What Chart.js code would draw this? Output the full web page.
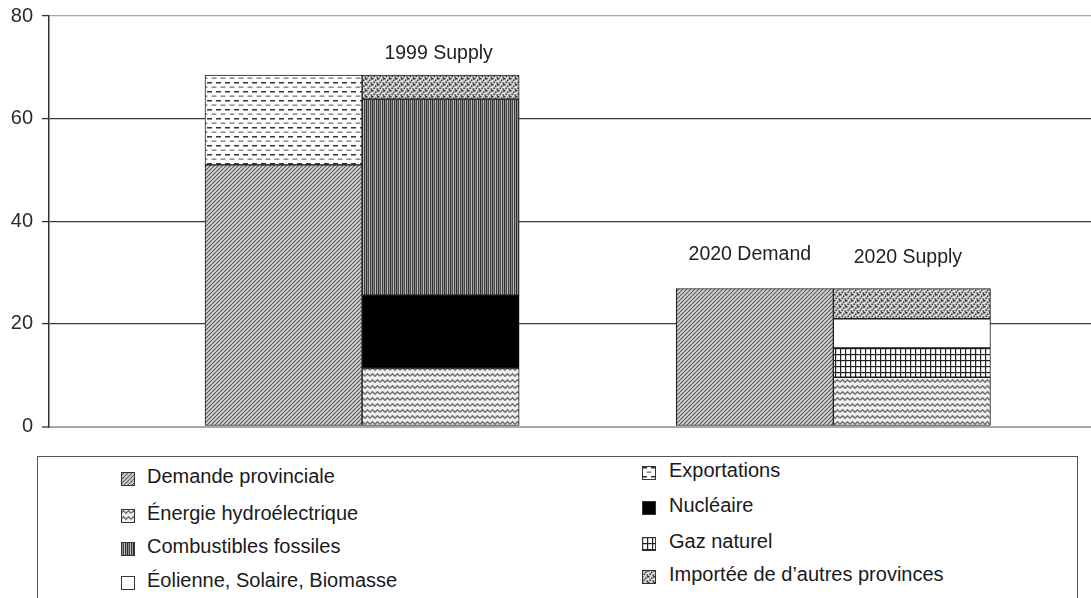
<!DOCTYPE html>
<html><head><meta charset="utf-8">
<script src="https://cdn.jsdelivr.net/npm/chart.js@4.4.0/dist/chart.umd.min.js"></script>
<style>
html,body{margin:0;padding:0;background:#fff;overflow:hidden;width:1091px;height:598px;position:relative;}
#c{position:absolute;left:0;top:0;}
#legend{position:absolute;left:37px;top:456px;width:1041px;height:170px;border:1.5px solid #555;box-sizing:border-box;}
.sw{position:absolute;}
.tx{position:absolute;font-family:"Liberation Sans",Arial,sans-serif;font-size:20px;line-height:24px;color:#1a1a1a;white-space:nowrap;}
</style></head><body>
<canvas id="c" width="1091" height="440"></canvas>
<div id="legend"></div>
<script>
// ---- data ----
const categories = ['1999 Demand', '1999 Supply', '2020 Demand', '2020 Supply'];
const barLabels = ['', '1999 Supply', '2020 Demand', '2020 Supply'];
const demandeProvinciale = [51.0, null, 26.9, null];
const exportations = [17.5, null, null, null];
const energieHydro = [null, 11.4, null, 9.6];
const nucleaire = [null, 14.2, null, null];
const combustiblesFossiles = [null, 38.2, null, null];
const gazNaturel = [null, null, null, 5.7];
const eolienneSolaireBiomasse = [null, null, null, 5.7];
const importee = [null, 4.7, null, 5.9];
const yTicks = [0, 20, 40, 60, 80];

// category index -> slot on the x axis (a gap between the two years)
function slotOf(i) { return i + 1 + (i >= 2 ? 1 : 0); }

// ---- patterns ----
function tile(w, h, draw) {
  const c = document.createElement('canvas'); c.width = w; c.height = h;
  const g = c.getContext('2d'); draw(g, w, h); return g.createPattern(c, 'repeat');
}
const pDiag = tile(4, 4, (g, w, h) => {
  g.fillStyle = '#d2d2d2'; g.fillRect(0, 0, w, h);
  g.strokeStyle = '#5a5a5a'; g.lineWidth = 1.1;
  for (const x0 of [-4, 0, 4]) { g.beginPath(); g.moveTo(x0, h); g.lineTo(x0 + h, 0); g.stroke(); }
});
const pDash = tile(9, 9, (g, w, h) => {
  g.fillStyle = '#fff'; g.fillRect(0, 0, w, h);
  g.fillStyle = '#333'; g.fillRect(0, 1, 5, 1.5);
  g.fillStyle = '#777'; g.fillRect(4.5, 5.5, 5, 1.3); g.fillRect(-4.5, 5.5, 5, 1.3);
});
const pWave = tile(10, 6, (g, w, h) => {
  g.fillStyle = '#f0f0f0'; g.fillRect(0, 0, w, h);
  g.strokeStyle = '#707070'; g.lineWidth = 1.5;
  g.beginPath(); g.moveTo(0, 4.2); g.lineTo(2.5, 1.8); g.lineTo(5, 4.2); g.lineTo(7.5, 1.8); g.lineTo(10, 4.2); g.stroke();
});
const pSolid = '#000';
const pVert = tile(6, 1, (g) => {
  ['#2e2e2e', '#8c8c8c', '#454545', '#bdbdbd', '#383838', '#9a9a9a'].forEach((c, i) => { g.fillStyle = c; g.fillRect(i, 0, 1, 1); });
});
const pGrid = tile(5, 6, (g, w, h) => {
  g.fillStyle = '#fff'; g.fillRect(0, 0, w, h);
  g.fillStyle = '#222'; g.fillRect(0, 0, 1.2, h); g.fillRect(0, 0, w, 1.2);
});
const pWhite = '#ffffff';
const pDots = tile(6, 6, (g, w, h) => {
  g.fillStyle = '#c4c4c4'; g.fillRect(0, 0, w, h);
  g.fillStyle = '#2a2a2a';
  [[0, 0], [3, 1.5], [1.5, 3.5], [4.5, 4.5], [5, 0.2]].forEach(([x, y]) => g.fillRect(x, y, 1.4, 1.4));
  g.fillStyle = '#f4f4f4';
  [[2, 0.5], [4.8, 2.8], [0, 2.5], [3, 5]].forEach(([x, y]) => g.fillRect(x, y, 1.2, 1.2));
});

const series = [
  { label: 'Demande provinciale', values: demandeProvinciale, fill: pDiag },
  { label: 'Exportations', values: exportations, fill: pDash },
  { label: 'Énergie hydroélectrique', values: energieHydro, fill: pWave },
  { label: 'Nucléaire', values: nucleaire, fill: pSolid },
  { label: 'Combustibles fossiles', values: combustiblesFossiles, fill: pVert },
  { label: 'Gaz naturel', values: gazNaturel, fill: pGrid },
  { label: 'Éolienne, Solaire, Biomasse', values: eolienneSolaireBiomasse, fill: pWhite },
  { label: 'Importée de d’autres provinces', values: importee, fill: pDots }
];

const FONT = '"Liberation Sans", Arial, sans-serif';

const barLabelPlugin = {
  id: 'barLabels',
  afterDatasetsDraw(chart, args, opts) {
    const ctx = chart.ctx, xs = chart.scales.x, ys = chart.scales.y;
    ctx.save();
    ctx.font = '19.5px ' + FONT; ctx.fillStyle = '#222';
    ctx.textAlign = 'center'; ctx.textBaseline = 'alphabetic';
    categories.forEach((c, i) => {
      if (!barLabels[i]) return;
      const total = series.reduce((s, d) => s + (d.values[i] || 0), 0);
      const x = xs.getPixelForValue(slotOf(i)) + opts.dx[i];
      const y = ys.getPixelForValue(total) - opts.lift[i];
      ctx.fillText(barLabels[i], x, y);
    });
    ctx.restore();
  }
};

new Chart(document.getElementById('c'), {
  type: 'bar',
  data: {
    datasets: series.map(s => ({
      label: s.label,
      data: s.values.map((v, i) => ({ x: slotOf(i), y: v })),
      backgroundColor: s.fill,
      borderColor: '#1a1a1a',
      borderWidth: 1,
      borderSkipped: false,
      categoryPercentage: 1,
      barPercentage: 1
    }))
  },
  options: {
    responsive: false,
    animation: false,
    devicePixelRatio: 1,
    layout: { padding: { top: 16, bottom: 13.5, left: 0, right: 0 } },
    plugins: {
      legend: { display: false },
      tooltip: { enabled: false },
      barLabels: { dx: [0, -2, -5, -4], lift: [0, 16, 28, 25] }
    },
    scales: {
      x: {
        type: 'linear', min: -0.493, max: 6.14, stacked: true, display: false,
        offset: false, grid: { offset: false },
        afterBuildTicks: s => { s.ticks = categories.map((c, i) => ({ value: slotOf(i) })); }
      },
      y: {
        stacked: true, min: 0, max: 80,
        afterBuildTicks: s => { s.ticks = yTicks.map(v => ({ value: v })); },
        afterFit: s => { s.width = 49; s.paddingTop = 0; s.paddingBottom = 0; },
        ticks: { font: { family: FONT, size: 20 }, color: '#2a2a2a', padding: 9 },
        grid: {
          color: c => (c.tick && (c.tick.value === 0 || c.tick.value === 80)) ? '#a8a8a8' : '#3a3a3a',
          lineWidth: c => (c.tick && c.tick.value === 0) ? 2 : 1.2,
          tickLength: 7, tickColor: '#333', tickWidth: 1.3
        },
        border: { display: true, color: '#333', width: 1.5 }
      }
    }
  },
  plugins: [barLabelPlugin]
});

// ---- legend (HTML, built from the series list) ----
const legendOrder = [
  { idx: 0, col: 0, cy: 476 }, { idx: 2, col: 0, cy: 513 }, { idx: 4, col: 0, cy: 546 }, { idx: 6, col: 0, cy: 580 },
  { idx: 1, col: 1, cy: 470 }, { idx: 3, col: 1, cy: 505 }, { idx: 5, col: 1, cy: 541 }, { idx: 7, col: 1, cy: 574 }
];
const colIcon = [121, 642], colText = [147, 669];
legendOrder.forEach(it => {
  const s = series[it.idx];
  const size = 14;
  const cv = document.createElement('canvas');
  cv.width = size; cv.height = size; cv.className = 'sw';
  cv.style.left = colIcon[it.col] + 'px'; cv.style.top = (it.cy - 4) + 'px';
  const g = cv.getContext('2d');
  g.fillStyle = s.fill; g.fillRect(0, 0, size, size);
  g.strokeStyle = '#333'; g.lineWidth = 1; g.strokeRect(0.5, 0.5, size - 1, size - 1);
  document.body.appendChild(cv);
  const t = document.createElement('div');
  t.className = 'tx'; t.textContent = s.label;
  t.style.left = colText[it.col] + 'px'; t.style.top = (it.cy - 12) + 'px';
  document.body.appendChild(t);
});
</script>
</body></html>
